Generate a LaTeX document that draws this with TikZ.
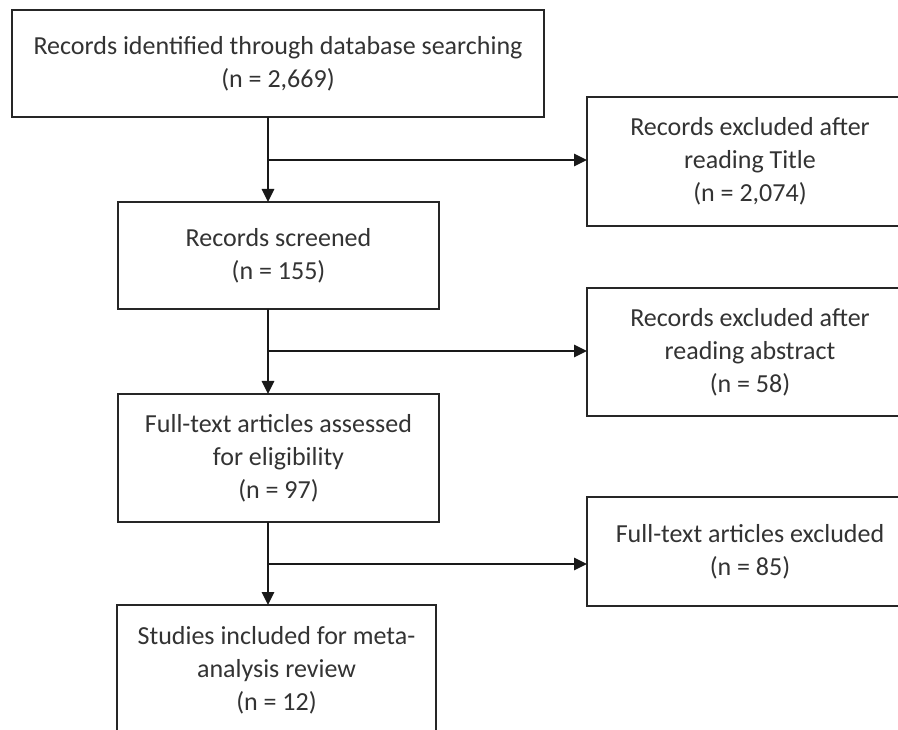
\documentclass[tikz,border=0pt]{standalone}
\usepackage{fontspec}
\setmainfont{Carlito}
\usetikzlibrary{arrows.meta}
\begin{document}
\begin{tikzpicture}[x=1pt,y=-1pt,
  box/.style={draw=black!85, line width=2.6pt, fill=white, align=center, text=black!80,
    font=\fontsize{26}{33}\selectfont, inner sep=0pt, outer sep=0pt, anchor=north west},
  conn/.style={draw=black!90, line width=2.6pt},
  arr/.style={conn, -{Triangle[length=13pt,width=12pt]}}]
\useasboundingbox (0,0) rectangle (898,730);
\clip (0,0) rectangle (898,730);
\fill[white] (0,0) rectangle (898,730);

\node[box, minimum width=532pt, minimum height=107pt] (b1) at (12,10)
  {Records identified through database searching\\(n = 2,669)};
\node[box, minimum width=321pt, minimum height=107pt] (b2) at (118,202)
  {Records screened\\(n = 155)};
\node[box, minimum width=321pt, minimum height=128pt] (b3) at (118,394)
  {Full-text articles assessed\\for eligibility\\(n = 97)};
\node[box, minimum width=319pt, minimum height=130pt] (b4) at (117,605)
  {Studies included for meta-\\analysis review\\(n = 12)};

\node[box, minimum width=326pt, minimum height=129pt] (e1) at (587,97)
  {Records excluded after\\reading Title\\(n = 2,074)};
\node[box, minimum width=326pt, minimum height=128pt] (e2) at (587,288)
  {Records excluded after\\reading abstract\\(n = 58)};
\node[box, minimum width=326pt, minimum height=109pt] (e3) at (587,497)
  {Full-text articles excluded\\(n = 85)};

\coordinate (j1) at (268,160);
\coordinate (j2) at (268,351);
\coordinate (j3) at (268,564);

\draw[arr] (b1.south -| j1) -- (b2.north -| j1);
\draw[arr] (j1) -- (e1.west |- j1);
\draw[arr] (b2.south -| j2) -- (b3.north -| j2);
\draw[arr] (j2) -- (e2.west |- j2);
\draw[arr] (b3.south -| j3) -- (b4.north -| j3);
\draw[arr] (j3) -- (e3.west |- j3);
\end{tikzpicture}
\end{document}
